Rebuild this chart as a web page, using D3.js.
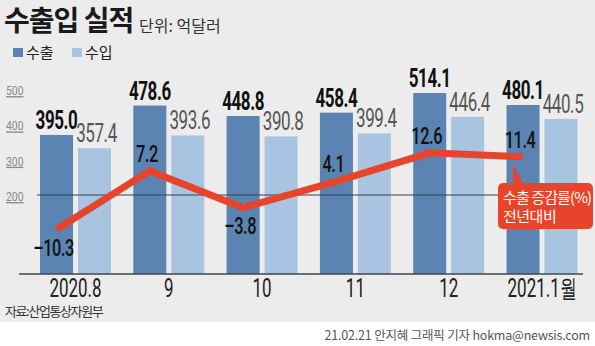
<!DOCTYPE html>
<html>
<head>
<meta charset="utf-8">
<script src="https://cdn.jsdelivr.net/npm/d3@7"></script>
<style>
  html, body { margin: 0; padding: 0; background: #fff; }
  svg { display: block; }
  .kr { font-family: "Noto Sans CJK KR", "Noto Sans", sans-serif; }
  .num { font-family: Roboto, "Liberation Sans", sans-serif; }
</style>
</head>
<body>
<svg id="chart" width="595" height="346"></svg>
<script>
// 월별 수출입 실적 (억달러)과 수출 증감률(%)
const months = ["2020.8", "9", "10", "11", "12", "2021.1월"];
const exportsVal = [395.0, 478.6, 448.8, 458.4, 514.1, 480.1];
const importsVal = [357.4, 393.6, 390.8, 399.4, 446.4, 440.5];
const exportGrowth = [-10.3, 7.2, -3.8, 4.1, 12.6, 11.4];
const axisTicks = [200, 300, 400, 500];
const seriesNames = ["수출", "수입"];

const W = 595, H = 346;
const svg = d3.select("#chart");

const colors = { "수출": "#5b84b2", "수입": "#a8c4e1" };
const red = "#e8442b";

// 좁은 숫자 글꼴 효과: 가로로 눌러 쓴 텍스트
function narrow(sel, sx) {
  return sel.attr("transform", function () {
    const t = d3.select(this);
    const tx = +t.attr("data-x"), ty = +t.attr("data-y");
    return `translate(${tx},${ty}) scale(${sx},1)`;
  });
}

// 배경
svg.append("rect").attr("x", 0).attr("y", 0).attr("width", W).attr("height", 322).attr("fill", "#ececec");

// 스케일
const x = d3.scaleBand().domain(months).range([28.85, 588.65]).paddingInner(0.239).paddingOuter(0.1195);
const xi = d3.scaleBand().domain(seriesNames).range([0, x.bandwidth()]).paddingInner(0.13);
const yBar = d3.scaleLinear().domain([0, 500]).range([274, 98]);
const yTick = d3.scaleLinear().domain([200, 500]).range([201, 95]);
const yRate = d3.scaleLinear().domain([0, 10]).range([195, 161.5]);

// 제목
svg.append("text").attr("class", "kr").attr("x", 4).attr("y", 31)
  .attr("font-size", 28).attr("font-weight", 700).attr("fill", "#1a1a1a")
  .attr("letter-spacing", -1).text("수출입 실적");
svg.append("text").attr("class", "kr").attr("x", 139).attr("y", 32)
  .attr("font-size", 16).attr("fill", "#333").text("단위: 억달러");

// 범례
const legend = svg.append("g").attr("transform", "translate(13,48)");
seriesNames.forEach((s, i) => {
  const g = legend.append("g").attr("transform", `translate(${i * 59},0)`);
  g.append("rect").attr("x", 0).attr("y", 0).attr("width", 10).attr("height", 9).attr("fill", colors[s]);
  g.append("text").attr("class", "kr").attr("x", 13).attr("y", 10)
    .attr("font-size", 15).attr("fill", "#222").text(s);
});

// 왼쪽 눈금
svg.append("g").selectAll("text").data(axisTicks).join("text")
  .attr("class", "num")
  .attr("data-x", 6).attr("data-y", d => yTick(d))
  .attr("font-size", 13).attr("fill", "#888")
  .attr("text-decoration", "underline")
  .text(d => d)
  .call(narrow, 0.8);

// 막대
const groups = svg.append("g").selectAll("g").data(months).join("g")
  .attr("transform", d => `translate(${x(d)},0)`);

groups.append("rect")
  .attr("x", xi("수출")).attr("width", xi.bandwidth())
  .attr("y", (d, i) => yBar(exportsVal[i]))
  .attr("height", (d, i) => yBar(0) - yBar(exportsVal[i]))
  .attr("fill", colors["수출"]);

groups.append("rect")
  .attr("x", xi("수입")).attr("width", xi.bandwidth())
  .attr("y", (d, i) => yBar(importsVal[i]))
  .attr("height", (d, i) => yBar(0) - yBar(importsVal[i]))
  .attr("fill", colors["수입"]);

// 막대 값
groups.append("text").attr("class", "num")
  .attr("data-x", xi("수출") + xi.bandwidth() / 2)
  .attr("data-y", (d, i) => yBar(exportsVal[i]) - 6)
  .attr("text-anchor", "middle").attr("font-size", 25).attr("font-weight", 700)
  .attr("letter-spacing", -0.6).attr("fill", "#111")
  .text((d, i) => exportsVal[i].toFixed(1))
  .call(narrow, 0.68);

groups.append("text").attr("class", "num")
  .attr("data-x", xi("수입") + xi.bandwidth() / 2 + 2)
  .attr("data-y", (d, i) => yBar(importsVal[i]) - 6)
  .attr("text-anchor", "middle").attr("font-size", 25)
  .attr("letter-spacing", -0.6).attr("fill", "#555")
  .text((d, i) => importsVal[i].toFixed(1))
  .call(narrow, 0.68);

// 기준선 (증감률 0)
svg.append("line").attr("x1", 37).attr("x2", 583)
  .attr("y1", yRate(0)).attr("y2", yRate(0))
  .attr("stroke", "#3a3f48").attr("stroke-width", 1.2);

// 바닥선
svg.append("line").attr("x1", 19).attr("x2", 583)
  .attr("y1", yBar(0)).attr("y2", yBar(0))
  .attr("stroke", "#444").attr("stroke-width", 1.5);

// 월 라벨
svg.append("g").selectAll("text").data(months).join("text")
  .attr("class", "num")
  .attr("data-x", d => x(d) + x.bandwidth() / 2)
  .attr("data-y", 297).attr("text-anchor", "middle")
  .attr("font-size", 25).attr("fill", "#222")
  .text(d => d)
  .call(narrow, 0.68);

// 수출 증감률 꺾은선
const px = (d, i) => x(months[i]) + xi("수출") + xi.bandwidth() / 2;
const line = d3.line().x(px).y(d => yRate(d));
svg.append("path").datum(exportGrowth)
  .attr("d", line).attr("fill", "none")
  .attr("stroke", red).attr("stroke-width", 7)
  .attr("stroke-linejoin", "miter");

// 증감률 값
svg.append("g").selectAll("text").data(exportGrowth).join("text")
  .attr("class", "num")
  .attr("data-x", (d, i) => px(d, i) - 3)
  .attr("data-y", (d, i) => i === 0 || i === 2 ? yRate(d) + 26 : yRate(d) - 9)
  .attr("text-anchor", "middle").attr("font-size", 24).attr("font-weight", 500)
  .attr("letter-spacing", -0.6).attr("fill", "#111")
  .text(d => (d < 0 ? "\u2013" + Math.abs(d).toFixed(1) : d.toFixed(1)))
  .call(narrow, 0.68);

// 말풍선 범례
const last = exportGrowth.length - 1;
const tipX = px(exportGrowth[last], last) - 10;
const tipY = yRate(exportGrowth[last]) + 7;
const callout = svg.append("g");
callout.append("path")
  .attr("d", `M${tipX},${tipY} L${tipX},186 L${tipX + 11},186 Z`)
  .attr("fill", red);
callout.append("rect").attr("x", 498).attr("y", 183).attr("width", 95).attr("height", 46)
  .attr("rx", 5).attr("fill", red);
callout.append("text").attr("class", "kr").attr("x", 503).attr("y", 203)
  .attr("font-size", 15).attr("fill", "#fff").attr("letter-spacing", -0.9).text("수출 증감률(%)");
callout.append("text").attr("class", "kr").attr("x", 503).attr("y", 222)
  .attr("font-size", 15).attr("fill", "#fff").attr("letter-spacing", -0.5).text("전년대비");

// 출처, 크레딧
svg.append("text").attr("class", "kr").attr("x", 5).attr("y", 316)
  .attr("font-size", 13).attr("fill", "#333").attr("letter-spacing", -1.4).text("자료:산업통상자원부");
svg.append("text").attr("class", "kr").attr("x", 590).attr("y", 340)
  .attr("text-anchor", "end").attr("font-size", 12.5).attr("fill", "#555")
  .attr("letter-spacing", -0.2).text("21.02.21 안지혜 그래픽 기자 hokma@newsis.com");
</script>
</body>
</html>
